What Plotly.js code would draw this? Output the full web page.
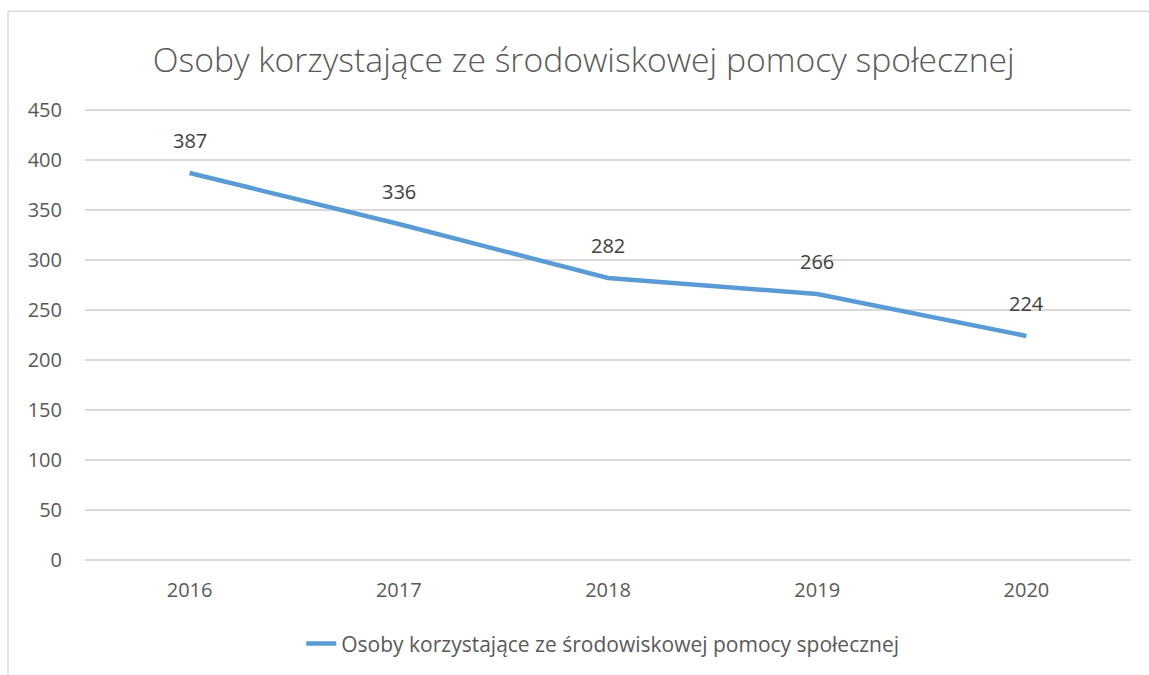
<!DOCTYPE html>
<html>
<head>
<meta charset="utf-8">
<script src="https://cdn.plot.ly/plotly-3.0.1.min.js"></script>
<style>html,body{margin:0;padding:0;background:#fff;}#chart{width:1149px;height:675px;}</style>
</head>
<body>
<div id="chart"></div>
<script>
const years = ['2016', '2017', '2018', '2019', '2020'];
const values = [387, 336, 282, 266, 224];
const seriesName = 'Osoby korzystające ze środowiskowej pomocy społecznej';
const chartTitle = 'Osoby korzystające ze środowiskowej pomocy społecznej';
const yTicks = [0, 50, 100, 150, 200, 250, 300, 350, 400, 450];

const FONT = 'Open Sans, sans-serif';

const trace = {
  x: years,
  y: values,
  type: 'scatter',
  mode: 'lines',
  name: seriesName,
  line: {color: '#5B9BD5', width: 4.5},
  hoverinfo: 'x+y'
};

const annotations = years.map((yr, i) => ({
  x: i, y: values[i], xref: 'x', yref: 'y',
  text: String(values[i]), showarrow: false, yshift: 33,
  font: {family: FONT, size: 20, color: '#404040'}
}));

const layout = {
  width: 1149, height: 675,
  margin: {l: 85, r: 18, t: 107, b: 111},
  paper_bgcolor: '#ffffff', plot_bgcolor: '#ffffff',
  title: {text: chartTitle, x: 0.508, xanchor: 'center', y: 0.911, yanchor: 'middle', yref: 'container',
    font: {family: FONT, size: 33.7, color: '#595959', weight: 300}},
  xaxis: {type: 'category', categoryorder: 'array', categoryarray: years, range: [-0.5, 4.5],
    showgrid: false, zeroline: false, showline: false, ticks: '',
    tickfont: {family: FONT, size: 20, color: '#595959'}, ticklabelstandoff: 13, fixedrange: true},
  yaxis: {range: [-3, 453], tickvals: yTicks, showgrid: true, gridcolor: '#D9D9D9', gridwidth: 1.5,
    zeroline: false, showline: false, ticks: '', ticklabelstandoff: 22,
    tickfont: {family: FONT, size: 20, color: '#595959'}, fixedrange: true},
  showlegend: true,
  legend: {orientation: 'h', x: 0.495, xanchor: 'center', y: -0.175, yanchor: 'middle',
    font: {family: FONT, size: 21, color: '#595959'}},
  annotations: annotations,
  shapes: [
    {type: 'line', xref: 'paper', yref: 'paper', x0: -0.0736, x1: -0.0736, y0: -0.3, y1: 1.21,
      line: {color: '#D9D9D9', width: 1.5}, layer: 'below'},
    {type: 'line', xref: 'paper', yref: 'paper', x0: -0.0736, x1: 1.03, y0: 1.21, y1: 1.21,
      line: {color: '#D9D9D9', width: 1.5}, layer: 'below'}
  ]
};

Plotly.newPlot('chart', [trace], layout, {displayModeBar: false, staticPlot: true});
</script>
</body>
</html>
